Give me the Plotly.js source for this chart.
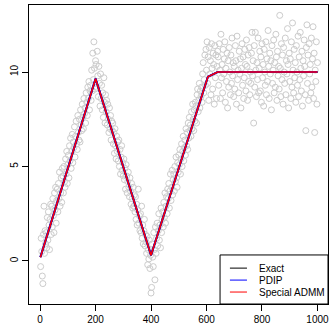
<!DOCTYPE html>
<html>
<head>
<meta charset="utf-8">
<script src="https://cdn.plot.ly/plotly-3.0.1.min.js"></script>
<style>
  html, body { margin: 0; padding: 0; background: #fff; }
  #plot { width: 329px; height: 328px; }
</style>
</head>
<body>
<div id="plot"></div>
<script>
// Noisy observations, one every 2 units of x (x = 2, 4, ..., 1000)
const obsStep = 2;

const obsRise1 = [
  -0.3, 1.2, 0.5, -0.8, -1.2, 1.4, 2.9, 0.4, 1.6, 0.9,
  1.5, 0.7, 2.3, 1.1, 2.6, 1.9, 0.6, 2.2, 3.0, 1.4,
  2.9, 1.8, 3.3, 2.4, 1.5, 3.6, 2.7, 3.9, 2.0, 3.2,
  3.8, 2.6, 4.1, 3.3, 4.7, 2.9, 3.6, 4.4, 3.1, 4.9,
  4.5, 3.6, 5.0, 4.2, 3.9, 5.4, 4.6, 5.8, 4.1, 5.1,
  5.6, 4.4, 6.1, 5.3, 6.5, 4.9, 5.8, 6.7, 5.2, 6.3,
  6.0, 7.1, 5.5, 6.6, 7.4, 6.2, 5.9, 7.7, 6.8, 6.4,
  7.5, 6.3, 8.0, 7.2, 6.9, 8.3, 7.6, 7.0, 8.6, 7.8,
  8.1, 7.3, 8.9, 8.4, 7.7, 9.2, 8.6, 9.5, 8.0, 9.0,
  9.3, 8.5, 10.1, 9.0, 11.0, 9.6, 11.6, 10.2, 9.1, 10.6
];

const obsFall = [
  10.4, 9.2, 11.1, 9.8, 8.7, 10.3, 9.4, 8.2, 9.9, 8.6,
  9.3, 8.0, 8.9, 7.6, 9.7, 8.4, 7.3, 8.8, 7.9, 8.5,
  7.2, 8.3, 7.5, 6.8, 8.1, 7.0, 7.7, 6.4, 7.4, 6.9,
  7.3, 6.2, 6.8, 5.7, 7.0, 6.1, 5.4, 6.6, 5.8, 6.3,
  5.3, 6.4, 5.0, 5.9, 4.6, 5.5, 6.1, 4.8, 5.2, 4.5,
  5.4, 4.3, 4.9, 3.8, 5.1, 4.5, 3.6, 4.2, 4.7, 3.9,
  3.4, 4.4, 3.7, 3.0, 4.1, 3.3, 2.8, 3.9, 2.9, 3.5,
  2.6, 3.4, 2.2, 3.0, 1.9, 2.7, 3.8, 2.0, 2.4, 1.6,
  2.5, 1.5, 2.9, 1.2, 1.9, 0.9, 1.6, 2.2, 0.8, 1.4,
  1.0, 0.4, 1.3, -0.2, 0.6, 0.1, 1.1, -0.4, 0.3, -1.7
];

const obsRise2 = [
  -1.4, 0.9, 0.2, -0.3, 1.5, 0.6, -1.0, 1.8, 0.4, 1.2,
  2.0, 0.8, 1.6, 2.5, 1.1, 1.9, 0.7, 2.8, 1.5, 2.2,
  2.6, 1.8, 3.1, 2.3, 3.6, 2.0, 2.9, 3.4, 2.5, 3.8,
  3.3, 4.1, 2.8, 3.7, 4.6, 3.2, 3.9, 4.8, 3.5, 4.3,
  4.6, 3.7, 5.0, 4.2, 5.5, 4.4, 3.9, 5.2, 4.7, 5.6,
  5.1, 5.9, 4.6, 5.4, 6.2, 5.0, 5.8, 6.6, 5.3, 6.0,
  6.4, 5.6, 7.0, 6.1, 6.8, 5.9, 7.3, 6.5, 7.6, 6.9,
  7.2, 6.6, 7.9, 7.0, 8.3, 7.5, 6.9, 8.0, 7.4, 8.4,
  8.2, 7.3, 8.8, 9.1, 7.9, 8.5, 9.4, 8.1, 9.0, 8.7,
  9.2, 8.4, 9.9, 10.5, 8.9, 9.6, 10.9, 9.3, 11.2, 10.1
];

const obsPlateau = [
  11.6, 9.4, 10.8, 8.5, 11.3, 9.9, 10.6, 8.8, 11.5, 10.2,
  9.1, 11.0, 10.4, 8.3, 11.4, 9.7, 10.9, 8.6, 10.3, 11.1,
  10.8, 9.3, 11.5, 10.1, 8.6, 12.0, 9.7, 10.4, 8.9, 11.2,
  9.9, 10.7, 11.6, 8.4, 10.2, 9.5, 11.0, 8.1, 10.6, 9.2,
  11.3, 10.0, 8.8, 10.9, 9.4, 11.8, 9.8, 10.5, 8.7, 10.3,
  9.1, 11.4, 10.6, 8.3, 11.9, 9.6, 10.1, 8.9, 11.1, 9.9,
  10.7, 8.1, 10.2, 11.5, 9.3, 10.8, 8.6, 9.7, 11.2, 10.4,
  9.0, 11.7, 10.3, 8.5, 10.9, 9.5, 11.3, 8.8, 10.0, 9.4,
  11.0, 12.1, 9.8, 10.6, 7.3, 11.4, 9.2, 12.1, 10.1, 8.7,
  10.5, 9.6, 11.8, 8.9, 10.2, 11.1, 9.0, 10.8, 8.4, 11.5,
  9.7, 10.4, 8.2, 11.2, 10.0, 9.3, 11.6, 8.8, 10.7, 9.5,
  12.2, 10.3, 8.6, 11.0, 9.9, 10.6, 8.0, 11.4, 9.4, 10.1,
  11.7, 8.9, 10.5, 9.2, 12.0, 10.8, 8.5, 11.1, 9.8, 10.3,
  9.1, 13.0, 10.2, 8.7, 11.5, 9.6, 10.9, 8.3, 11.3, 10.0,
  9.4, 11.8, 8.8, 10.6, 9.9, 12.3, 10.4, 8.1, 11.0, 9.5,
  10.7, 8.6, 11.6, 9.2, 12.6, 10.1, 8.9, 11.2, 9.7, 10.5,
  8.4, 11.4, 10.0, 9.3, 11.9, 8.7, 10.8, 9.6, 12.1, 10.2,
  9.0, 11.1, 8.2, 10.6, 9.8, 11.7, 10.3, 8.8, 6.9, 11.3,
  12.5, 9.4, 10.9, 8.5, 11.5, 9.9, 10.4, 8.9, 11.8, 9.2,
  10.7, 12.4, 8.6, 11.0, 6.8, 10.1, 9.5, 11.6, 8.3, 10.5
];

// Piecewise-linear fits (knots and values)
const fitX     = [1, 200, 400, 605, 640, 1000];
const exactY   = [0.2, 9.65, 0.3, 9.75, 10, 10];
const pdipY    = [0.2, 9.65, 0.3, 9.75, 10, 10];
const admmY    = [0.2, 9.65, 0.3, 9.75, 10, 10];

const seriesNames  = ['Exact', 'PDIP', 'Special ADMM'];
const seriesColors = ['#000000', '#0000ff', '#ff0000'];
const xTicks = [0, 200, 400, 600, 800, 1000];
const yTicks = [0, 5, 10];

const obsY = obsRise1.concat(obsFall, obsRise2, obsPlateau);
const obsX = obsY.map((_, i) => (i + 1) * obsStep);

const traces = [
  {
    x: obsX, y: obsY, type: 'scatter', mode: 'markers', showlegend: false,
    hoverinfo: 'skip',
    marker: { symbol: 'circle-open', size: 6, color: '#cccccc', line: { width: 1, color: '#cccccc' } }
  },
  {
    x: fitX, y: exactY, type: 'scatter', mode: 'lines', name: seriesNames[0], showlegend: false,
    line: { color: seriesColors[0], width: 1.8 }
  },
  {
    x: fitX, y: pdipY, type: 'scatter', mode: 'lines', name: seriesNames[1], showlegend: false,
    line: { color: seriesColors[1], width: 2.0 }
  },
  {
    x: fitX, y: admmY, type: 'scatter', mode: 'lines', name: seriesNames[2], showlegend: false,
    line: { color: seriesColors[2], width: 1.5 }
  }
];

const baseFont = 'Liberation Sans, Arial, sans-serif';
const axisFont = { family: baseFont, size: 10, color: '#000' };

// Boxed legend in the lower-right corner of the plotting area (paper coords)
const legBox = { x0: 0.639, x1: 1.0, y0: 0.0, y1: 0.164 };
const legRows = [0.120, 0.080, 0.040];
const legLineX = [0.672, 0.729];
const legTextX = 0.763;

const shapes = [{
  type: 'rect', xref: 'paper', yref: 'paper', layer: 'above',
  x0: legBox.x0, x1: legBox.x1, y0: legBox.y0, y1: legBox.y1,
  fillcolor: '#ffffff', line: { color: '#000', width: 1 }
}].concat(seriesNames.map((n, i) => ({
  type: 'line', xref: 'paper', yref: 'paper', layer: 'above',
  x0: legLineX[0], x1: legLineX[1], y0: legRows[i], y1: legRows[i],
  line: { color: seriesColors[i], width: 1 }
})));

const annotations = seriesNames.map((n, i) => ({
  xref: 'paper', yref: 'paper', x: legTextX, y: legRows[i],
  xanchor: 'left', yanchor: 'middle', showarrow: false,
  text: n, font: { family: baseFont, size: 10, color: '#000' }
}));

const layout = {
  width: 329, height: 328,
  margin: { l: 29, r: 1, t: 5, b: 24 },
  paper_bgcolor: '#fff', plot_bgcolor: '#fff',
  font: axisFont,
  showlegend: false,
  xaxis: {
    range: [-40, 1038], tickvals: xTicks, ticktext: xTicks.map(String),
    showgrid: false, zeroline: false,
    showline: true, mirror: true, linecolor: '#000', linewidth: 1,
    ticks: 'outside', ticklen: 6, tickcolor: '#000', tickwidth: 1,
    tickfont: axisFont, ticklabeloverflow: 'allow'
  },
  yaxis: {
    range: [-2.28, 13.55], tickvals: yTicks, ticktext: yTicks.map(String),
    showgrid: false, zeroline: false,
    showline: true, mirror: true, linecolor: '#000', linewidth: 1,
    ticks: 'outside', ticklen: 6, tickcolor: '#000', tickwidth: 1,
    tickangle: -90, tickfont: axisFont
  },
  shapes: shapes,
  annotations: annotations
};

Plotly.newPlot('plot', traces, layout, { displayModeBar: false, staticPlot: true });
</script>
</body>
</html>
